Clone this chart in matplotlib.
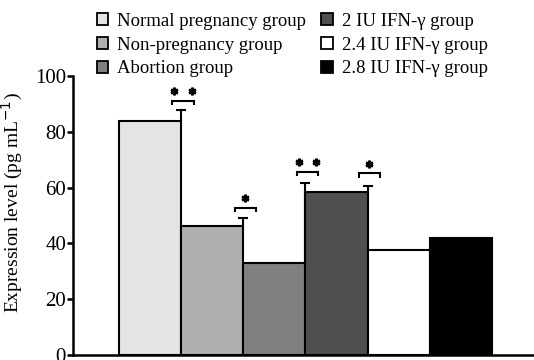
import matplotlib
matplotlib.use("Agg")
import matplotlib.pyplot as plt
from matplotlib.patches import Patch

plt.rcParams['font.family'] = ['Liberation Serif', 'DejaVu Serif']

groups = ["Normal pregnancy group", "Non-pregnancy group", "Abortion group",
          "2 IU IFN-\u03b3 group", "2.4 IU IFN-\u03b3 group", "2.8 IU IFN-\u03b3 group"]
values = [84.0, 46.2, 33.0, 58.5, 37.6, 41.9]
colors = ["#e4e4e4", "#b0b0b0", "#808080", "#4f4f4f", "#ffffff", "#000000"]
# error bar tops, drawn on the right edge of the first four bars
err_tops = [87.8, 49.0, 61.5, 60.7]
err_bases = [84.0, 46.2, 33.0, 58.5]
# significance brackets above each error bar
sig_y = [91.1, 52.8, 65.7, 65.1]
sig_stars = [2, 1, 2, 1]

fig = plt.figure(figsize=(5.34, 3.6), dpi=100)
ax = fig.add_axes([0.1367, 0.0139, 0.8613, 0.775])

x = list(range(len(values)))
ax.bar(x, values, width=1.0, color=colors, edgecolor="black", linewidth=1.5, zorder=2)

lw = 1.5
for i, (b, t) in enumerate(zip(err_bases, err_tops)):
    xe = i + 0.5
    ax.plot([xe, xe], [b, t], color="black", lw=lw, zorder=3, solid_capstyle='butt')
    ax.plot([xe - 0.08, xe + 0.08], [t, t], color="black", lw=lw, zorder=3, solid_capstyle='butt')

for i, (y, n) in enumerate(zip(sig_y, sig_stars)):
    xc = i + 0.5 + 0.03
    hw = 0.17
    ax.plot([xc - hw, xc - hw, xc + hw, xc + hw], [y - 1.6, y, y, y - 1.6],
            color="black", lw=lw, zorder=3, solid_capstyle='butt', solid_joinstyle='miter')
    if n == 2:
        xs = [xc - hw + 0.03, xc + hw - 0.03]
    else:
        xs = [xc]
    for xx in xs:
        ax.plot(xx, y + 3.4, marker=(6, 2, 0), markersize=5.5, color="black", mew=1.8, zorder=3)

ax.set_xlim(-1.24, 6.16)
ax.set_ylim(0, 100)
ax.set_yticks([0, 20, 40, 60, 80, 100])
ax.tick_params(axis='y', direction='out', length=4, width=1.8, labelsize=15, pad=1)
ax.set_xticks([])
for s in ['top', 'right']:
    ax.spines[s].set_visible(False)
for s in ['left', 'bottom']:
    ax.spines[s].set_linewidth(1.8)
ax.set_ylabel("Expression level (pg mL$^{-1}$)", fontsize=14)
ax.yaxis.set_label_coords(-0.104, 0.548)

handles = [Patch(facecolor=c, edgecolor="black", linewidth=1.3) for c in colors]
fig.legend(handles, groups, ncol=2, loc="upper left", bbox_to_anchor=(0.167, 0.985),
           frameon=False, fontsize=13.5, handlelength=0.6, handleheight=0.6,
           handletextpad=0.5, columnspacing=0.8, labelspacing=0.36, borderaxespad=0)

fig.savefig("out.png", dpi=100)
